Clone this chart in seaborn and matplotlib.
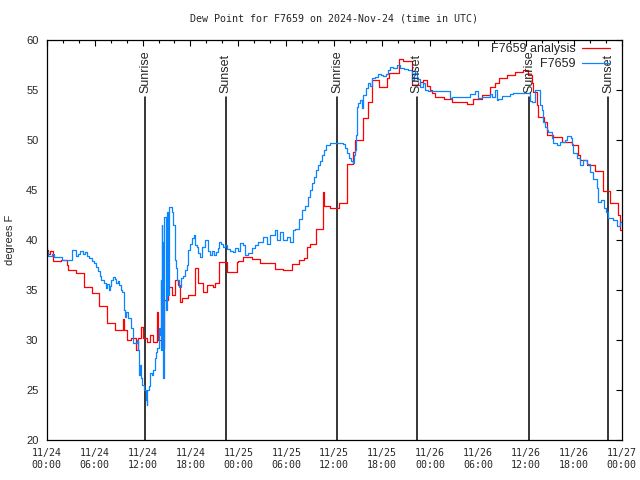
import pandas as pd
import matplotlib
matplotlib.use("Agg")
import matplotlib.pyplot as plt
import matplotlib.dates as mdates
import seaborn as sns

# hours since 2024-11-24 00:00 UTC, dew point in F (stepped series)
analysis_hours = [0.0, 0.2, 0.4, 0.8, 1.8, 2.5, 2.7, 3.7, 4.7, 5.7, 6.5, 7.5, 8.5, 9.6, 9.7,
                  10.0, 10.5, 11.2, 11.4, 11.8, 12.1, 12.6, 12.9, 13.3, 13.8, 13.9, 14.4,
                  14.7, 15.2, 15.7, 16.1, 16.4, 16.7, 16.9, 17.7, 18.6, 18.9, 19.6, 20.1,
                  20.8, 21.1, 21.6, 22.6, 23.8, 23.95, 24.6, 25.7, 26.7, 28.6, 29.6, 30.7,
                  31.6, 32.2, 32.6, 33.0, 33.7, 34.6, 34.7, 35.5, 36.6, 37.6, 38.4, 38.6,
                  39.6, 40.2, 40.7, 41.6, 42.6, 42.9, 44.1, 44.6, 45.7, 46.7, 47.1, 47.6,
                  48.0, 48.2, 48.6, 49.7, 50.7, 52.6, 53.4, 54.5, 55.5, 56.1, 56.6, 57.6,
                  58.6, 59.6, 60.3, 60.8, 60.9, 61.4, 61.5, 62.3, 62.6, 63.4, 64.5, 65.8,
                  66.5, 66.8, 67.7, 68.7, 69.7, 70.5, 71.5, 71.8, 72.0]
analysis_vals = [39.0, 38.6, 38.9, 37.9, 38.0, 37.5, 37.0, 36.7, 35.3, 34.7, 33.4, 31.7, 31.0, 32.1, 31.0,
                 30.0, 30.2, 29.0, 30.2, 31.3, 30.2, 29.8, 30.5, 29.8, 32.8, 30.0, 29.2,
                 34.0, 35.3, 34.5, 36.0, 35.5, 33.8, 34.2, 34.5, 37.2, 35.7, 34.8, 35.5,
                 35.3, 35.7, 37.8, 36.8, 37.8, 37.9, 38.3, 38.1, 37.7, 37.1, 37.0, 37.6,
                 38.0, 38.2, 39.3, 39.6, 41.1, 44.8, 43.4, 43.2, 43.7, 47.6, 48.8, 50.0,
                 52.2, 53.8, 56.0, 55.3, 56.2, 56.7, 58.1, 57.9, 55.5, 55.8, 56.0, 55.4,
                 55.0, 54.7, 54.3, 54.1, 53.8, 53.6, 54.1, 54.5, 55.3, 55.7, 56.2, 56.5,
                 56.8, 57.0, 56.5, 55.7, 54.8, 53.5, 52.3, 51.8, 50.5, 50.3, 49.8, 49.5,
                 48.5, 48.0, 47.5, 46.9, 44.9, 43.7, 42.5, 41.0, 41.0]

station_hours = [0.0, 0.1, 0.2, 0.7, 0.9, 1.9, 3.2, 3.7, 3.9, 4.2, 4.5, 4.8, 5.0, 5.3, 5.7,
                 5.9, 6.2, 6.4, 6.7, 6.8, 7.2, 7.4, 7.6, 7.8, 7.9, 8.1, 8.3, 8.6, 8.7, 8.9,
                 9.1, 9.3, 9.4, 9.7, 9.8, 9.9, 10.2, 10.6, 10.8, 11.3, 11.4, 11.6, 11.7,
                 11.8, 11.9, 12.2, 12.4, 12.5, 12.6, 12.8, 12.9, 13.2, 13.3, 13.5, 13.7,
                 13.8, 14.0, 14.2, 14.30, 14.36, 14.42, 14.48, 14.54, 14.62, 14.75, 14.9,
                 15.05, 15.2, 15.3, 15.7, 15.8, 16.1, 16.2, 16.3, 16.6, 16.8, 17.1, 17.3,
                 17.6, 17.7, 17.9, 18.2, 18.4, 18.6, 18.8, 18.9, 19.2, 19.5, 19.8, 20.2,
                 20.4, 20.7, 21.0, 21.2, 21.4, 21.6, 21.8, 22.1, 22.3, 22.6, 23.0, 23.3,
                 23.6, 23.95, 24.2, 24.6, 24.8, 25.2, 25.7, 26.1, 26.5, 27.1, 27.6, 27.96,
                 28.6, 28.8, 29.2, 29.6, 30.1, 30.5, 30.8, 31.1, 31.6, 31.97, 32.3, 32.7,
                 33.0, 33.2, 33.5, 33.7, 33.97, 34.2, 34.5, 34.7, 35.0, 35.5, 37.1, 37.4,
                 37.6, 37.9, 38.1, 38.4, 38.5, 38.6, 38.7, 38.9, 39.0, 39.2, 39.5, 39.6,
                 40.0, 40.2, 40.5, 40.7, 41.1, 41.5, 41.9, 42.1, 42.5, 42.7, 43.0, 43.4,
                 43.9, 44.2, 44.7, 45.2, 45.7, 46.0, 46.1, 46.4, 46.7, 47.1, 47.4, 47.7,
                 50.5, 50.7, 53.0, 53.6, 54.0, 54.5, 55.5, 55.7, 56.1, 56.4, 56.5, 57.0,
                 58.0, 58.4, 60.5, 60.8, 61.1, 61.8, 62.0, 62.1, 62.4, 62.6, 62.8, 63.3,
                 63.4, 63.9, 64.3, 64.9, 65.2, 65.6, 65.8, 65.9, 66.4, 66.8, 67.2, 67.7,
                 68.0, 68.4, 68.9, 69.0, 69.4, 69.8, 70.0, 70.3, 70.9, 71.4, 71.8, 72.0]
station_vals = [39.3, 38.8, 38.4, 38.6, 38.3, 38.0, 39.0, 38.4, 38.6, 38.9, 38.6, 38.8, 38.4, 38.2, 37.9,
                37.7, 37.3, 36.9, 36.4, 36.0, 35.7, 35.2, 35.6, 35.0, 35.4, 36.0, 36.3, 36.1, 35.7, 35.9,
                35.5, 35.0, 34.8, 33.0, 32.3, 32.8, 32.2, 31.2, 29.7, 30.0, 29.0, 26.5, 27.5,
                26.2, 25.5, 25.0, 24.0, 23.5, 25.0, 25.4, 26.7, 26.5, 27.0, 28.2, 28.8,
                29.2, 31.2, 30.5, 36.0, 29.0, 41.5, 31.0, 39.8, 26.2, 42.3, 33.0,
                42.8, 34.5, 43.3, 42.8, 41.5, 38.0, 37.2, 36.0, 35.3, 36.2, 36.4, 37.0,
                37.5, 39.0, 39.6, 40.2, 40.5, 39.5, 39.3, 38.7, 38.3, 39.3, 40.0, 38.9,
                38.5, 38.9, 38.5, 38.8, 39.2, 39.8, 39.6, 39.3, 39.5, 39.1, 38.9, 38.8,
                39.2, 38.9, 39.7, 39.5, 38.5, 38.7, 39.2, 39.5, 39.8, 40.3, 39.6, 40.5,
                41.0, 40.0, 40.8, 40.0, 40.3, 39.8, 41.0, 41.1, 42.1, 43.0, 43.4, 44.3,
                45.0, 45.7, 46.3, 47.0, 47.5, 47.9, 48.5, 49.0, 49.5, 49.7, 49.6, 49.2,
                48.7, 48.2, 47.9, 47.7, 48.5, 49.0, 50.5, 53.3, 53.7, 54.0, 53.2, 54.5,
                55.2, 55.7, 55.4, 56.2, 56.3, 56.6, 56.5, 56.4, 56.6, 57.0, 57.3, 57.2,
                57.5, 57.2, 57.1, 57.0, 56.0, 56.5, 56.9, 56.1, 55.3, 55.7, 55.0, 54.9,
                54.2, 54.3, 54.6, 54.9, 54.2, 54.3, 54.6, 54.3, 55.0, 54.0, 54.1, 54.4,
                54.6, 54.7, 53.9, 53.8, 55.0, 53.5, 53.0, 51.8, 51.3, 51.0, 50.8, 50.2,
                49.7, 49.5, 49.8, 50.0, 50.4, 50.2, 49.6, 48.7, 48.2, 47.5, 48.0, 47.6,
                46.8, 46.1, 45.2, 43.8, 44.0, 43.2, 42.8, 42.2, 42.0, 41.4, 41.8, 42.0]

sun_events = ["Sunrise", "Sunset", "Sunrise", "Sunset", "Sunrise", "Sunset"]
sun_hours = [12.37, 22.41, 36.39, 46.33, 60.43, 70.32]

start = pd.Timestamp("2024-11-24 00:00")
df_a = pd.DataFrame({"time": start + pd.to_timedelta(analysis_hours, unit="h"), "dewpt": analysis_vals})
df_s = pd.DataFrame({"time": start + pd.to_timedelta(station_hours, unit="h"), "dewpt": station_vals})

sns.set_theme(style="white")
plt.rcParams["font.family"] = ["Liberation Sans", "DejaVu Sans"]

fig = plt.figure(figsize=(6.4, 4.8), dpi=100)
ax = fig.add_axes([46.7 / 640, 40 / 480, 575 / 640, 400 / 480])

sns.lineplot(data=df_a, x="time", y="dewpt", ax=ax, color="#ff0000", linewidth=0.9,
             drawstyle="steps-post", estimator=None, label="F7659 analysis")
sns.lineplot(data=df_s, x="time", y="dewpt", ax=ax, color="#0a84ff", linewidth=0.9,
             drawstyle="steps-post", estimator=None, label="F7659")

for name, h in zip(sun_events, sun_hours):
    t = start + pd.Timedelta(hours=h)
    ax.plot([t, t], [20, 54.3], color="black", linewidth=1.1, zorder=1)
    ax.text(t, 54.7, name, rotation=90, ha="center", va="bottom", fontsize=9)

ax.set_xlim(start, start + pd.Timedelta(hours=72))
ax.set_ylim(20, 60)
ax.set_yticks(range(20, 61, 5))
ax.xaxis.set_major_locator(mdates.HourLocator(byhour=[0, 6, 12, 18]))
ax.xaxis.set_minor_locator(mdates.HourLocator(byhour=range(0, 24, 2)))
ax.xaxis.set_major_formatter(mdates.DateFormatter("%m/%d\n%H:%M"))
ax.tick_params(axis="both", which="both", direction="in", top=True, right=True,
               color="black", width=0.8)
ax.tick_params(which="major", length=4)
ax.tick_params(which="minor", length=2.5)
ax.tick_params(axis="y", labelsize=8, pad=6)
for lbl in ax.get_xticklabels():
    lbl.set_fontfamily("DejaVu Sans Mono")
    lbl.set_fontsize(7.2)
ax.tick_params(axis="x", pad=6)
for sp in ax.spines.values():
    sp.set_color("black")
    sp.set_linewidth(0.9)

ax.set_xlabel("")
ax.set_ylabel("degrees F", fontsize=8, labelpad=8)
ax.set_title("Dew Point for F7659 on 2024-Nov-24 (time in UTC)", fontsize=7.2,
             family="DejaVu Sans Mono", pad=13)

ax.legend(loc="upper right", bbox_to_anchor=(0.981, 0.995), frameon=False,
          markerfirst=False, fontsize=9, handlelength=2.2, handletextpad=0.5,
          labelspacing=0.25, borderaxespad=0.0, borderpad=0.1)

fig.savefig("out.png", dpi=100)
